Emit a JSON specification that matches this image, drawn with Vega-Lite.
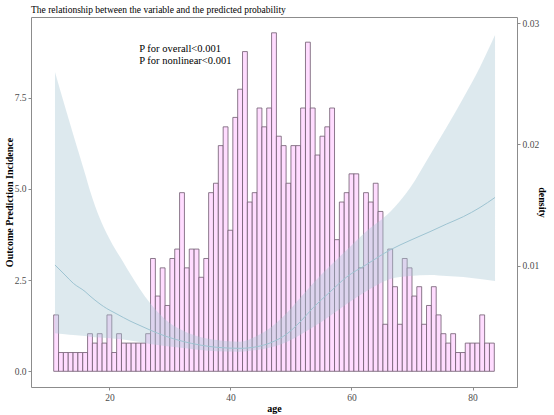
{
  "$schema": "https://vega.github.io/schema/vega-lite/v6.json",
  "width": 486,
  "height": 370,
  "autosize": "none",
  "padding": {"left": 31, "top": 17, "right": 37, "bottom": 28},
  "background": "white",
  "title": {"text": "The relationship between the variable and the predicted probability", "anchor": "start", "frame": "group", "fontSize": 9.5, "font": "Liberation Serif, DejaVu Serif, serif", "fontWeight": "normal", "color": "black", "offset": 3},
  "config": {
    "view": {"stroke": "#8c8c8c", "strokeWidth": 1},
    "font": "Liberation Serif, DejaVu Serif, serif",
    "axis": {"labelFont": "Liberation Serif, DejaVu Serif, serif", "labelFontSize": 9.5, "labelColor": "#4d4d4d", "titleFont": "Liberation Serif, DejaVu Serif, serif", "titleFontSize": 10, "titleFontWeight": "bold", "titleColor": "black", "tickColor": "#8c8c8c", "domain": false, "grid": false, "tickSize": 3, "labelPadding": 2, "titlePadding": 2}
  },
  "datasets": {
    "hist": [
      {"s": 10.8, "e": 11.6, "h": 1.546}, {"s": 11.6, "e": 12.4, "h": 0.515}, {"s": 12.4, "e": 13.2, "h": 0.515}, {"s": 13.2, "e": 14.0, "h": 0.515},
      {"s": 14.0, "e": 14.8, "h": 0.515}, {"s": 14.8, "e": 15.6, "h": 0.515}, {"s": 15.6, "e": 16.4, "h": 0.515}, {"s": 16.4, "e": 17.2, "h": 1.031},
      {"s": 17.2, "e": 18.0, "h": 0.773}, {"s": 18.0, "e": 18.8, "h": 1.031}, {"s": 18.8, "e": 19.6, "h": 0.773}, {"s": 19.6, "e": 20.4, "h": 1.546},
      {"s": 20.4, "e": 21.2, "h": 0.515}, {"s": 21.2, "e": 22.0, "h": 1.031}, {"s": 22.0, "e": 22.8, "h": 0.773}, {"s": 22.8, "e": 23.6, "h": 0.773},
      {"s": 23.6, "e": 24.4, "h": 0.773}, {"s": 24.4, "e": 25.2, "h": 0.773}, {"s": 25.2, "e": 26.0, "h": 0.773}, {"s": 26.0, "e": 26.8, "h": 1.031},
      {"s": 26.8, "e": 27.6, "h": 3.092}, {"s": 27.6, "e": 28.4, "h": 2.062}, {"s": 28.4, "e": 29.2, "h": 2.835}, {"s": 29.2, "e": 30.0, "h": 1.804},
      {"s": 30.0, "e": 30.8, "h": 3.092}, {"s": 30.8, "e": 31.6, "h": 3.350}, {"s": 31.6, "e": 32.4, "h": 4.896}, {"s": 32.4, "e": 33.2, "h": 2.835},
      {"s": 33.2, "e": 34.0, "h": 3.350}, {"s": 34.0, "e": 34.8, "h": 3.350}, {"s": 34.8, "e": 35.6, "h": 2.577}, {"s": 35.6, "e": 36.4, "h": 3.092},
      {"s": 36.4, "e": 37.2, "h": 4.896}, {"s": 37.2, "e": 38.0, "h": 5.154}, {"s": 38.0, "e": 38.8, "h": 6.185}, {"s": 38.8, "e": 39.6, "h": 6.700},
      {"s": 39.6, "e": 40.4, "h": 3.866}, {"s": 40.4, "e": 41.2, "h": 6.958}, {"s": 41.2, "e": 42.0, "h": 7.731}, {"s": 42.0, "e": 42.8, "h": 8.762},
      {"s": 42.8, "e": 43.6, "h": 4.639}, {"s": 43.6, "e": 44.4, "h": 4.896}, {"s": 44.4, "e": 45.2, "h": 7.216}, {"s": 45.2, "e": 46.0, "h": 6.700},
      {"s": 46.0, "e": 46.8, "h": 7.216}, {"s": 46.8, "e": 47.6, "h": 9.277}, {"s": 47.6, "e": 48.4, "h": 6.443}, {"s": 48.4, "e": 49.2, "h": 6.185},
      {"s": 49.2, "e": 50.0, "h": 5.154}, {"s": 50.0, "e": 50.8, "h": 6.185}, {"s": 50.8, "e": 51.6, "h": 6.185}, {"s": 51.6, "e": 52.4, "h": 7.216},
      {"s": 52.4, "e": 53.2, "h": 9.020}, {"s": 53.2, "e": 54.0, "h": 7.216}, {"s": 54.0, "e": 54.8, "h": 5.927}, {"s": 54.8, "e": 55.6, "h": 6.443},
      {"s": 55.6, "e": 56.4, "h": 6.700}, {"s": 56.4, "e": 57.2, "h": 7.216}, {"s": 57.2, "e": 58.0, "h": 3.608}, {"s": 58.0, "e": 58.8, "h": 4.639},
      {"s": 58.8, "e": 59.6, "h": 4.896}, {"s": 59.6, "e": 60.4, "h": 5.412}, {"s": 60.4, "e": 61.2, "h": 5.412}, {"s": 61.2, "e": 62.0, "h": 2.835},
      {"s": 62.0, "e": 62.8, "h": 4.896}, {"s": 62.8, "e": 63.6, "h": 4.639}, {"s": 63.6, "e": 64.4, "h": 5.154}, {"s": 64.4, "e": 65.2, "h": 4.381},
      {"s": 65.2, "e": 66.0, "h": 1.289}, {"s": 66.0, "e": 66.8, "h": 3.350}, {"s": 66.8, "e": 67.6, "h": 2.319}, {"s": 67.6, "e": 68.4, "h": 1.289},
      {"s": 68.4, "e": 69.2, "h": 3.092}, {"s": 69.2, "e": 70.0, "h": 2.835}, {"s": 70.0, "e": 70.8, "h": 2.062}, {"s": 70.8, "e": 71.6, "h": 2.319},
      {"s": 71.6, "e": 72.4, "h": 1.289}, {"s": 72.4, "e": 73.2, "h": 1.804}, {"s": 73.2, "e": 74.0, "h": 2.319}, {"s": 74.0, "e": 74.8, "h": 1.546},
      {"s": 74.8, "e": 75.6, "h": 1.031}, {"s": 75.6, "e": 76.4, "h": 0.773}, {"s": 76.4, "e": 77.2, "h": 1.031}, {"s": 77.2, "e": 78.0, "h": 0.515},
      {"s": 78.0, "e": 78.8, "h": 0.515}, {"s": 78.8, "e": 79.6, "h": 0.773}, {"s": 79.6, "e": 80.4, "h": 0.773}, {"s": 80.4, "e": 81.2, "h": 0.773},
      {"s": 81.2, "e": 82.0, "h": 1.546}, {"s": 82.0, "e": 82.8, "h": 0.773}, {"s": 82.8, "e": 83.6, "h": 0.773}
    ],
    "curve": [
      {"age": 11.01, "fit": 2.914, "lower": 1.042, "upper": 8.205},
      {"age": 12.67, "fit": 2.640, "lower": 1.017, "upper": 7.250},
      {"age": 14.04, "fit": 2.412, "lower": 0.995, "upper": 6.480},
      {"age": 15.97, "fit": 2.188, "lower": 0.968, "upper": 5.420},
      {"age": 16.80, "fit": 2.064, "lower": 0.948, "upper": 4.950},
      {"age": 18.45, "fit": 1.845, "lower": 0.927, "upper": 4.180},
      {"age": 19.56, "fit": 1.721, "lower": 0.913, "upper": 3.780},
      {"age": 20.93, "fit": 1.598, "lower": 0.894, "upper": 3.360},
      {"age": 22.30, "fit": 1.475, "lower": 0.872, "upper": 2.990},
      {"age": 23.41, "fit": 1.379, "lower": 0.844, "upper": 2.680},
      {"age": 25.06, "fit": 1.255, "lower": 0.803, "upper": 2.250},
      {"age": 26.71, "fit": 1.132, "lower": 0.748, "upper": 1.870},
      {"age": 29.19, "fit": 0.968, "lower": 0.694, "upper": 1.430},
      {"age": 32.21, "fit": 0.817, "lower": 0.639, "upper": 1.110},
      {"age": 34.97, "fit": 0.721, "lower": 0.584, "upper": 0.940},
      {"age": 37.73, "fit": 0.658, "lower": 0.548, "upper": 0.858},
      {"age": 41.58, "fit": 0.630, "lower": 0.537, "upper": 0.811},
      {"age": 44.34, "fit": 0.674, "lower": 0.584, "upper": 0.968},
      {"age": 46.54, "fit": 0.776, "lower": 0.652, "upper": 1.187},
      {"age": 49.30, "fit": 1.022, "lower": 0.803, "upper": 1.598},
      {"age": 51.50, "fit": 1.351, "lower": 0.995, "upper": 2.009},
      {"age": 53.70, "fit": 1.749, "lower": 1.214, "upper": 2.421},
      {"age": 56.45, "fit": 2.174, "lower": 1.516, "upper": 2.887},
      {"age": 59.21, "fit": 2.585, "lower": 1.845, "upper": 3.325},
      {"age": 62.52, "fit": 2.930, "lower": 2.201, "upper": 3.846},
      {"age": 66.37, "fit": 3.325, "lower": 2.530, "upper": 4.367},
      {"age": 69.67, "fit": 3.586, "lower": 2.612, "upper": 5.025},
      {"age": 72.98, "fit": 3.827, "lower": 2.640, "upper": 5.929},
      {"age": 75.74, "fit": 4.038, "lower": 2.612, "upper": 6.697},
      {"age": 78.48, "fit": 4.238, "lower": 2.585, "upper": 7.492},
      {"age": 81.24, "fit": 4.490, "lower": 2.530, "upper": 8.342},
      {"age": 83.72, "fit": 4.764, "lower": 2.475, "upper": 9.219}
    ]
  },
  "layer": [
    {
      "layer": [
        {
          "data": {"name": "hist"},
          "mark": {"type": "rect", "fill": "#ffdcff", "stroke": "#6e5a6e", "strokeWidth": 0.8},
          "encoding": {
            "x": {"field": "s", "type": "quantitative", "title": "age", "scale": {"domain": [7.05, 87.35], "nice": false, "zero": false}, "axis": {"values": [20, 40, 60, 80], "format": "d"}},
            "x2": {"field": "e"},
            "y": {"field": "h", "type": "quantitative", "title": "Outcome Prediction Incidence", "scale": {"domain": [-0.43, 9.71], "nice": false, "zero": false}, "axis": {"values": [0, 2.5, 5, 7.5], "format": ".1f", "titlePadding": 0}},
            "y2": {"datum": 0}
          }
        },
        {
          "data": {"name": "curve"},
          "mark": {"type": "area", "color": "#a9c8d4", "opacity": 0.4, "interpolate": "monotone"},
          "encoding": {
            "x": {"field": "age", "type": "quantitative", "title": "age"},
            "y": {"field": "lower", "type": "quantitative", "title": "Outcome Prediction Incidence"},
            "y2": {"field": "upper"}
          }
        },
        {
          "data": {"name": "curve"},
          "mark": {"type": "line", "color": "#9ec4d2", "strokeWidth": 1, "interpolate": "monotone"},
          "encoding": {
            "x": {"field": "age", "type": "quantitative", "title": "age"},
            "y": {"field": "fit", "type": "quantitative", "title": "Outcome Prediction Incidence"}
          }
        },
        {
          "data": {"values": [{}]},
          "mark": {"type": "text", "text": ["P for overall<0.001", "P for nonlinear<0.001"], "align": "left", "baseline": "alphabetic", "fontSize": 10.5, "lineHeight": 11.5, "font": "Liberation Serif, DejaVu Serif, serif", "color": "black"},
          "encoding": {
            "x": {"datum": 24.94, "type": "quantitative"},
            "y": {"datum": 8.74, "type": "quantitative"}
          }
        }
      ]
    },
    {
      "data": {"values": [{}]},
      "mark": {"type": "rule", "opacity": 0},
      "encoding": {
        "y": {"datum": 0.01, "type": "quantitative", "scale": {"domain": [0, 0.0305], "nice": false, "zero": false}, "axis": {"orient": "right", "values": [0.01, 0.02, 0.03], "format": ".2f", "title": "density", "titlePadding": -2}}
      }
    }
  ],
  "resolve": {"scale": {"y": "independent"}}
}
